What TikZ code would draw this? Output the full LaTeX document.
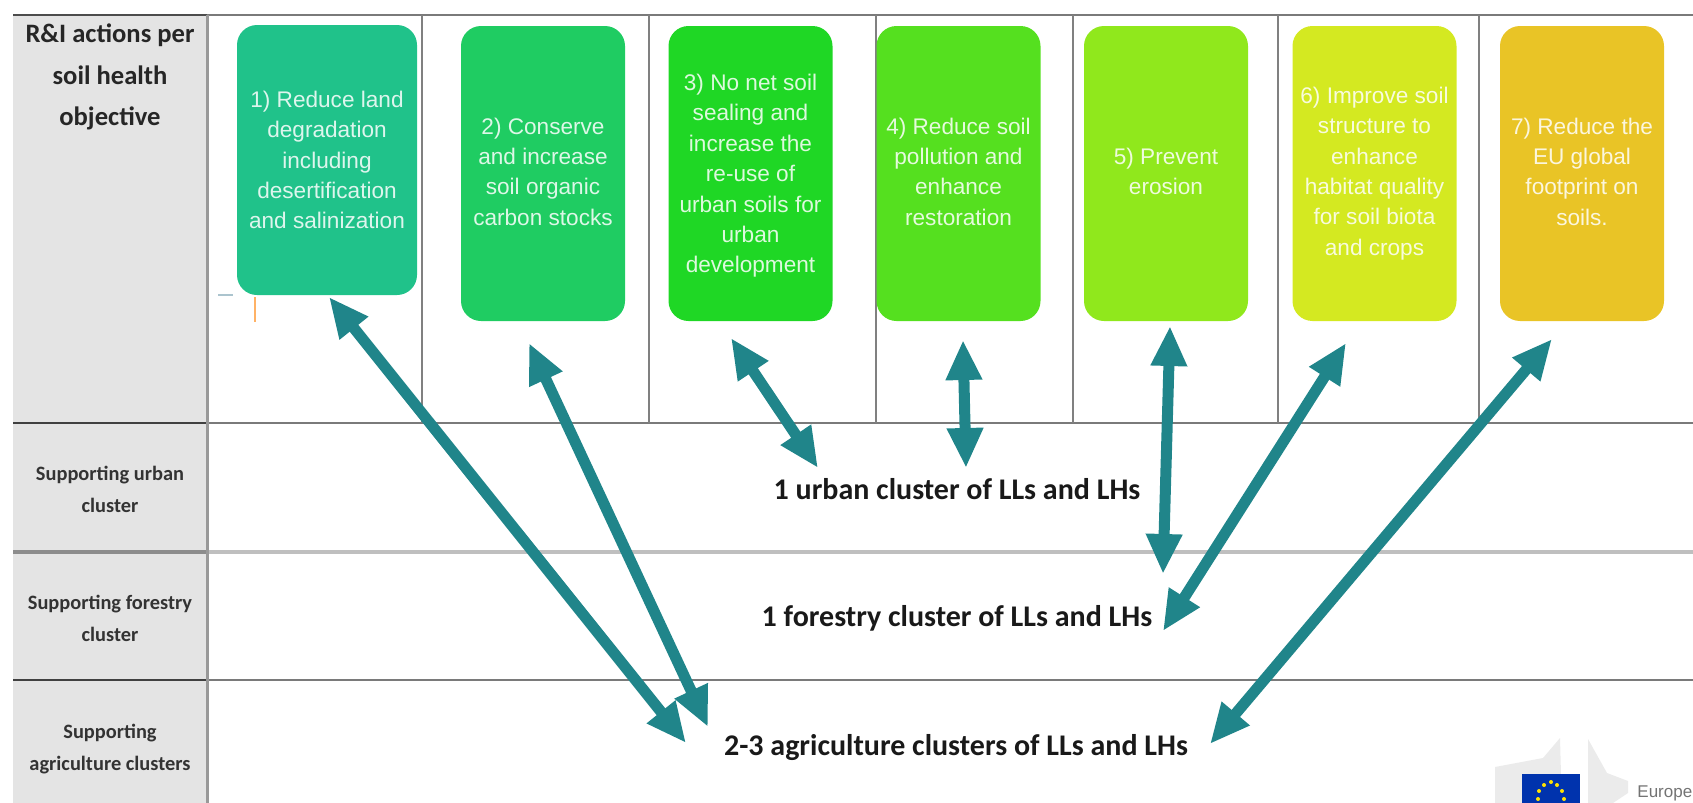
\documentclass[tikz,border=0pt]{standalone}
\usepackage{fontspec}
\setmainfont{Liberation Sans}
\newfontfamily\carl{Carlito}
\usetikzlibrary{arrows.meta}
\definecolor{teal1}{HTML}{20858A}
\definecolor{colfill}{HTML}{E4E4E4}
\definecolor{boxa}{HTML}{20C28A}
\definecolor{boxb}{HTML}{1FCC62}
\definecolor{boxc}{HTML}{1FD725}
\definecolor{boxd}{HTML}{55E01F}
\definecolor{boxe}{HTML}{90E81C}
\definecolor{boxf}{HTML}{D4E921}
\definecolor{boxg}{HTML}{E9C426}
\newcommand{\dropb}{\rule[-2pt]{0pt}{0pt}}
\tikzset{
  x=0.5pt,y=-0.5pt,
  obj/.style={draw=none,rounded corners=10pt,minimum height=135pt,align=center,inner sep=0pt,
    text=white,text opacity=.85,font=\fontsize{11.3}{15.2}\selectfont},
  objs/.style={obj,minimum width=82pt},
  clus/.style={font=\carl\bfseries\fontsize{15}{17}\selectfont,text=black!90,inner sep=0pt},
  head/.style={font=\carl\bfseries\fontsize{13.3}{20.8}\selectfont,text=black!85,align=center,inner sep=0pt},
  rowl/.style={font=\carl\bfseries\fontsize{10.2}{16}\selectfont,text=black!80,align=center,inner sep=0pt},
  biarrow/.style={draw=teal1,line width=5.5pt,{Triangle[length=20pt,width=17pt]}-{Triangle[length=20pt,width=17pt]}},
  hl/.style={draw=black!52,line width=1pt},
  vl/.style={draw=black!50,line width=.8pt},
}
\begin{document}
\begin{tikzpicture}
\useasboundingbox (0,0) rectangle (1693,803);
% left column
\fill[colfill] (13,15) rectangle (207,803);
% grid
\draw[hl] (207,15) -- (1693,15);
\draw[draw=black!70,line width=1.2pt] (13,15) -- (207,15);
\draw[hl] (207,423) -- (1693,423);
\draw[draw=black!75,line width=1pt] (13,423) -- (207,423);
\draw[draw=black!25,line width=2pt] (207,552) -- (1693,552);
\draw[draw=black!45,line width=2pt] (13,552) -- (207,552);
\draw[hl] (207,680) -- (1693,680);
\draw[draw=black!75,line width=1pt] (13,680) -- (207,680);
\draw[draw=black!40,line width=1.5pt] (207,15) -- (207,803);
\foreach \vx in {422,649,876,1073,1278,1479}{\draw[vl] (\vx,15) -- (\vx,423);}
% stray marks
\draw[draw=cyan!30!gray!60,line width=.7pt] (218,295) -- (233,295);
\draw[draw=orange!60,line width=.7pt] (255,297) -- (255,322);
% objectives
\node[obj,fill=boxa,minimum width=90pt,minimum height=135pt] (o1) at (327,160) {1) Reduce land\\degradation\\including\\desertification\\and salinization};
\node[objs,fill=boxb,minimum height=147.5pt] (o2) at (543,173.5) {2) Conserve\\and increase\\soil organic\\carbon stocks\dropb};
\node[objs,fill=boxc,minimum height=147.5pt] (o3) at (750.5,173.5) {\rule{0pt}{10.5pt}3) No net soil\\sealing and\\increase the\\re-use of\\urban soils for\\urban\\development};
\node[objs,fill=boxd,minimum height=147.5pt] (o4) at (958.5,173.5) {4) Reduce soil\\pollution and\\enhance\\restoration\dropb};
\node[objs,fill=boxe,minimum height=147.5pt] (o5) at (1166,173.5) {5) Prevent\\erosion\dropb};
\node[objs,fill=boxf,minimum height=147.5pt] (o6) at (1374.5,173.5) {6) Improve soil\\structure to\\enhance\\habitat quality\\for soil biota\\and crops};
\node[objs,fill=boxg,minimum height=147.5pt] (o7) at (1582,173.5) {7) Reduce the\\EU global\\footprint on\\soils.\dropb};
% left labels
\node[head] (h1) at (110,77) {R\&I actions per\\soil health\\objective};
\node[rowl] (r1) at (110,489) {Supporting urban\\cluster};
\node[rowl] (r2) at (110,618) {Supporting forestry\\cluster};
\node[rowl] (r3) at (110,749) {Supporting\\agriculture clusters};
% clusters
\node[clus] (c1) at (957,489) {1 urban cluster of LLs and LHs};
\node[clus] (c2) at (957,618) {1 forestry cluster of LLs and LHs};
\node[clus] (c3) at (956,747.5) {2-3 agriculture clusters of LLs and LHs};
% arrow ends
\coordinate (a1t) at (329,297); \coordinate (a1b) at (686,743);
\coordinate (a2t) at (529,343); \coordinate (a2b) at (708,727);
\coordinate (a3t) at (731,338); \coordinate (a3b) at (818,468);
\coordinate (a4t) at (963,340); \coordinate (a4b) at (966,468);
\coordinate (a5t) at (1170,326); \coordinate (a5b) at (1163,574);
\coordinate (a6t) at (1346,343); \coordinate (a6b) at (1163,631);
\coordinate (a7t) at (1552,339); \coordinate (a7b) at (1210,744);
\foreach \n in {1,...,7}{\draw[biarrow] (a\n t) -- (a\n b);}
% logo
\fill[black!8] (1495,767) -- (1543,758) -- (1560,738) -- (1561,775) -- (1522,775) -- (1522,803) -- (1495,803) -- cycle;
\fill[black!8] (1588,739) -- (1607,773) -- (1628,781) -- (1628,793) -- (1613,803) -- (1588,803) -- cycle;
\fill[fill=blue!60!black!80!cyan] (1522,774) rectangle (1580,803);
\foreach \sx/\sy in {1551/782,1544/785,1557/785,1539/791,1562/791,1538/799,1564/799}{\fill[yellow!85!orange] (\sx,\sy) circle (1pt);}
\node[anchor=base west,inner sep=0pt,text=black!55,font=\fontsize{8.5}{10}\selectfont] (eu) at (1637,797) {Europe};
\end{tikzpicture}
\end{document}
